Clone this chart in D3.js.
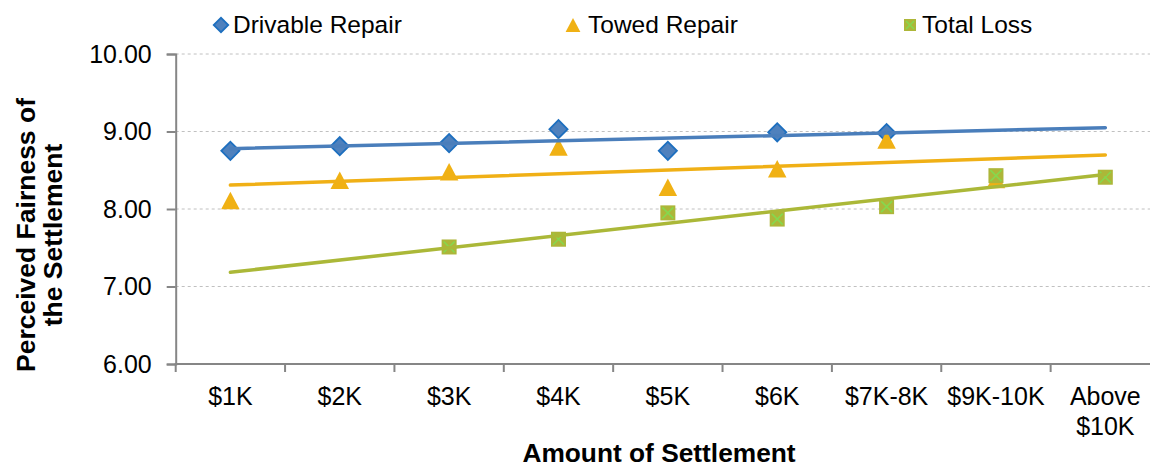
<!DOCTYPE html>
<html>
<head>
<meta charset="utf-8">
<script src="https://cdnjs.cloudflare.com/ajax/libs/d3/7.8.5/d3.min.js"></script>
<style>
  body { margin: 0; background: #fff; }
  svg text { font-family: "Liberation Sans", Arial, sans-serif; fill: #000; }
</style>
</head>
<body>
<div id="chart"></div>
<script>
// Data
const categories = ['$1K', '$2K', '$3K', '$4K', '$5K', '$6K', '$7K-8K', '$9K-10K', 'Above $10K']
const drivable = [8.75, 8.81, 8.85, 9.03, 8.75, 8.99, 8.98, null, null]
const towed = [8.11, 8.37, 8.48, 8.80, 8.28, 8.52, 8.89, 8.38, null]
const totalLoss = [null, null, 7.51, 7.61, 7.95, 7.87, 8.03, 8.43, 8.41]
const yTicks = [6, 7, 8, 9, 10]
const seriesNames = ['Drivable Repair', 'Towed Repair', 'Total Loss']

// Layout
const canvasWidth = 1150
const canvasHeight = 474
const plotLeft = 175.7
const plotRight = 1160
const plotTop = 54
const plotBottom = 364

const x = d3.scaleBand().domain(categories).range([plotLeft, plotRight])
const y = d3.scaleLinear().domain([6, 10]).range([plotBottom, plotTop])

const series = [
    { name: seriesNames[0], values: drivable, color: '#4A7EBB', fill: '#4F81BD', stroke: '#1D6FBF', shape: 'diamond' },
    { name: seriesNames[1], values: towed, color: '#F0B016', fill: '#F0B114', stroke: '#F0B114', shape: 'triangle' },
    { name: seriesNames[2], values: totalLoss, color: '#ABB838', fill: '#ADB639', stroke: '#ADB639', shape: 'square' }
]

const svg = d3.select('#chart')
    .append('svg')
    .attr('width', canvasWidth)
    .attr('height', canvasHeight)

// gridlines
svg.append('g')
    .selectAll('line')
    .data(yTicks.filter(d => d > 6))
    .enter()
    .append('line')
    .attr('x1', plotLeft)
    .attr('x2', plotRight)
    .attr('y1', d => y(d))
    .attr('y2', d => y(d))
    .attr('stroke', '#C0C0C0')
    .attr('stroke-width', 1)
    .attr('stroke-dasharray', '3,3')

// Y axis
const yAxis = svg.append('g')
    .attr('transform', `translate(${plotLeft}, 0)`)
    .call(d3.axisLeft(y).tickValues(yTicks).tickFormat(d3.format('.2f')).tickSize(9).tickPadding(15))
yAxis.select('.domain').attr('stroke', '#868686').attr('stroke-width', 2)
yAxis.selectAll('.tick line').attr('stroke', '#868686').attr('stroke-width', 2)
yAxis.selectAll('.tick text').attr('font-size', 25).attr('fill', '#000')

// X axis - labels at centres, ticks at band edges
const xAxis = svg.append('g')
    .attr('transform', `translate(0, ${plotBottom})`)
    .call(d3.axisBottom(x).tickSize(0).tickPadding(23))
xAxis.select('.domain').remove()
xAxis.selectAll('.tick text')
    .attr('font-size', 25)
    .attr('fill', '#000')
    .each(function (d) {
        const t = d3.select(this)
        const words = d.split(' ')
        if (words.length > 1 && this.getComputedTextLength() > x.bandwidth() * 0.95) {
            t.text(null)
            words.forEach((w, i) => {
                t.append('tspan').attr('x', 0).attr('dy', i === 0 ? '0.71em' : '1.2em').text(w)
            })
        }
    })

svg.append('line')
    .attr('x1', plotLeft - 1)
    .attr('x2', plotRight)
    .attr('y1', plotBottom)
    .attr('y2', plotBottom)
    .attr('stroke', '#868686')
    .attr('stroke-width', 2)

svg.append('g')
    .selectAll('line')
    .data(categories)
    .enter()
    .append('line')
    .attr('x1', d => x(d))
    .attr('x2', d => x(d))
    .attr('y1', plotBottom)
    .attr('y2', plotBottom + 8)
    .attr('stroke', '#868686')
    .attr('stroke-width', 2)

// Axis titles
svg.append('text')
    .text('Amount of Settlement')
    .attr('x', 659)
    .attr('y', 462)
    .attr('text-anchor', 'middle')
    .attr('font-size', 26.3)
    .attr('font-weight', 'bold')

const yTitle = svg.append('text')
    .attr('transform', 'translate(35, 235) rotate(-90)')
    .attr('text-anchor', 'middle')
    .attr('font-size', 26.5)
    .attr('font-weight', 'bold')
yTitle.append('tspan').attr('x', 0).attr('dy', 0).text('Perceived Fairness of')
yTitle.append('tspan').attr('x', 0).attr('dy', 27).text('the Settlement')

// markers
function drawMarker(g, s, cx, cy, big) {
    const k = big ? 1 : 0.8
    if (s.shape === 'diamond') {
        g.append('path')
            .attr('d', d3.symbol().type(d3.symbolSquare).size(165 * k * k)())
            .attr('transform', `translate(${cx}, ${cy}) rotate(45)`)
            .attr('fill', s.fill)
            .attr('stroke', s.stroke)
            .attr('stroke-width', 1.8)
    } else if (s.shape === 'triangle') {
        const h = 17.5 * k, w = 18.5 * k
        g.append('path')
            .attr('d', `M${cx},${cy - h / 2}L${cx + w / 2},${cy + h / 2}L${cx - w / 2},${cy + h / 2}Z`)
            .attr('fill', s.fill)
    } else {
        const a = 15 * k
        g.append('rect')
            .attr('x', cx - a / 2)
            .attr('y', cy - a / 2)
            .attr('width', a)
            .attr('height', a)
            .attr('fill', s.fill)
        g.append('path')
            .attr('d', `M${cx - a / 2 + 2},${cy - a / 2 + 2}L${cx + a / 2 - 2},${cy + a / 2 - 2}M${cx + a / 2 - 2},${cy - a / 2 + 2}L${cx - a / 2 + 2},${cy + a / 2 - 2}`)
            .attr('stroke', '#86D84E')
            .attr('stroke-width', 1.6)
    }
}

const markerLayer = svg.append('g')
series.forEach(s => {
    s.values.forEach((v, i) => {
        if (v === null) return
        drawMarker(markerLayer, s, x(categories[i]) + x.bandwidth() / 2, y(v), true)
    })
})

// linear trendlines (least squares over points present, drawn over the full category range)
function fit(values) {
    const pts = values.map((v, i) => [i + 1, v]).filter(p => p[1] !== null)
    const mx = d3.mean(pts, p => p[0])
    const my = d3.mean(pts, p => p[1])
    const slope = d3.sum(pts, p => (p[0] - mx) * (p[1] - my)) / d3.sum(pts, p => (p[0] - mx) ** 2)
    return n => my + slope * (n - mx)
}

const trendLine = d3.line()
    .x(d => x(categories[d[0] - 1]) + x.bandwidth() / 2)
    .y(d => y(d[1]))

series.forEach(s => {
    const f = fit(s.values)
    svg.append('path')
        .attr('d', trendLine([[1, f(1)], [categories.length, f(categories.length)]]))
        .attr('fill', 'none')
        .attr('stroke', s.color)
        .attr('stroke-width', 3.5)
        .attr('stroke-linecap', 'round')
})

// LEGEND
const legendX = [221, 573, 910]
const legend = svg.append('g').attr('id', 'legend')
series.forEach((s, i) => {
    drawMarker(legend, s, legendX[i], 25, false)
    legend.append('text')
        .text(s.name)
        .attr('x', legendX[i] + (s.shape === 'diamond' ? 12 : s.shape === 'triangle' ? 15 : 12))
        .attr('y', 33)
        .attr('font-size', 24.5)
})
</script>
</body>
</html>
